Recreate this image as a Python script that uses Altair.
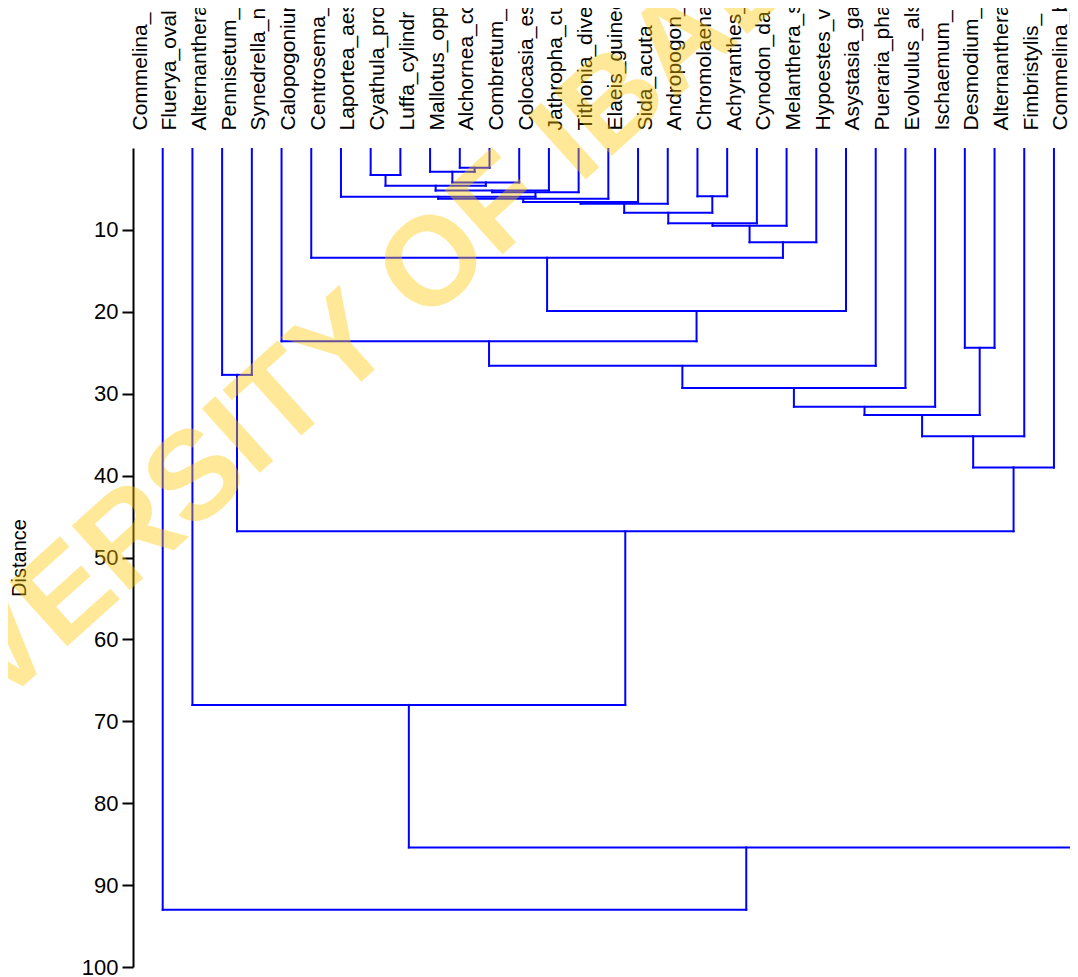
import altair as alt
import pandas as pd

# ---- data ----
leaf_labels = [
    "Commelina_", "Fluerya_oval", "Alternanthera", "Pennisetum_", "Synedrella_n",
    "Calopogonium", "Centrosema_", "Laportea_aes", "Cyathula_pro", "Luffa_cylindr",
    "Mallotus_opp", "Alchornea_co", "Combretum_", "Colocasia_es", "Jathropha_cu",
    "Tithonia_dive", "Elaeis_guinee", "Sida_acuta", "Andropogon_", "Chromolaena",
    "Achyranthes_", "Cynodon_da", "Melanthera_s", "Hypoestes_v", "Asystasia_ga",
    "Pueraria_pha", "Evolvulus_als", "Ischaemum_", "Desmodium_", "Alternanthera",
    "Fimbristylis_", "Commelina_b",
]
n_leaves = 33  # one more leaf lies just past the right edge

# merges: "L<i>" = leaf i (0-based order), "M<k>" = k-th merge (1-based)
merge_left = ["L11", "L10", "L8", "M2", "M3", "M5", "M6", "L7", "L19", "M8",
              "M10", "M11", "M12", "M13", "M14", "M15", "L6", "M17", "L5", "L28",
              "M19", "L3", "M21", "M23", "M24", "M25", "M26", "M22", "L2", "M29", "L1"]
merge_right = ["L12", "M1", "L9", "L13", "M4", "L14", "L15", "M7", "L20", "L16",
               "L17", "L18", "M9", "L21", "L22", "L23", "M16", "L24", "M18", "L29",
               "L25", "L4", "L26", "L27", "M20", "L30", "L31", "M27", "M28", "L32", "M30"]
merge_height = [2.4, 2.9, 3.3, 4.2, 4.6, 5.2, 5.4, 5.95, 5.9, 6.2,
                6.6, 6.8, 7.9, 9.2, 9.5, 11.5, 13.4, 19.9, 23.6, 24.4,
                26.6, 27.7, 29.3, 31.6, 32.6, 35.2, 39.0, 46.8, 68.0, 85.4, 93.0]

y_ticks = [10, 20, 30, 40, 50, 60, 70, 80, 90, 100]
watermark = "UNIVERSITY OF IBADAN"

# ---- build segments from the tree ----
pos = {}
hgt = {}
for i in range(n_leaves):
    pos["L%d" % i] = float(i)
    hgt["L%d" % i] = 0.0

segs = []
for k, (a, b, h) in enumerate(zip(merge_left, merge_right, merge_height), start=1):
    xa, xb = pos[a], pos[b]
    segs.append({"x": xa, "x2": xa, "y": hgt[a], "y2": h})
    segs.append({"x": xb, "x2": xb, "y": hgt[b], "y2": h})
    segs.append({"x": xa, "x2": xb, "y": h, "y2": h})
    pos["M%d" % k] = (xa + xb) / 2.0
    hgt["M%d" % k] = h

seg_df = pd.DataFrame(segs)

label_array = "[" + ",".join("'%s'" % s for s in leaf_labels) + "]"

FONT = "Liberation Sans"

x_enc = alt.X(
    "x:Q",
    scale=alt.Scale(domain=[0, 31.54], nice=False, zero=False),
    axis=alt.Axis(
        orient="top", values=list(range(len(leaf_labels))),
        labelExpr=label_array + "[datum.value]",
        labelAngle=-90, labelAlign="left", labelBaseline="top",
        labelFont=FONT, labelFontSize=21, labelColor="black",
        labelPadding=18, labelOffset=-4, labelOverlap=False, labelLimit=400,
        labelFlush=False, labelBound=False,
        ticks=False, tickSize=0, domain=False, grid=False, title=None,
    ),
)
y_enc = alt.Y(
    "y:Q",
    scale=alt.Scale(domain=[0, 100], reverse=True, nice=False, zero=False),
    axis=alt.Axis(
        orient="left", values=y_ticks, grid=False,
        domainColor="black", domainWidth=2, tickColor="black", tickWidth=2,
        tickSize=11, labelFont=FONT, labelFontSize=22, labelColor="black",
        labelPadding=4, title="Distance", titleFont=FONT,
        titleFontSize=20, titleFontWeight="normal", titleColor="black",
        titleX=-104,
    ),
)

rules = alt.Chart(seg_df).mark_rule(
    color="#0000FF", strokeWidth=2, strokeCap="square", clip=True
).encode(x=x_enc, x2="x2:Q", y=y_enc, y2="y2:Q")

wm = alt.Chart(pd.DataFrame({"t": [watermark]})).mark_text(
    font=FONT, fontSize=126, fontWeight="bold", color="#FFC800", opacity=0.4,
    angle=318, align="center", baseline="middle",
).encode(x=alt.value(232), y=alt.value(179), text="t:N")

chart = alt.layer(rules, wm).properties(
    width=937, height=819,
    autosize=alt.AutoSizeParams(type="none"),
    padding={"left": 125, "top": 140, "right": 0, "bottom": 10},
    background="white",
).configure_view(stroke="transparent")

chart.save("out.html", embed_options={"renderer": "svg", "actions": False})
